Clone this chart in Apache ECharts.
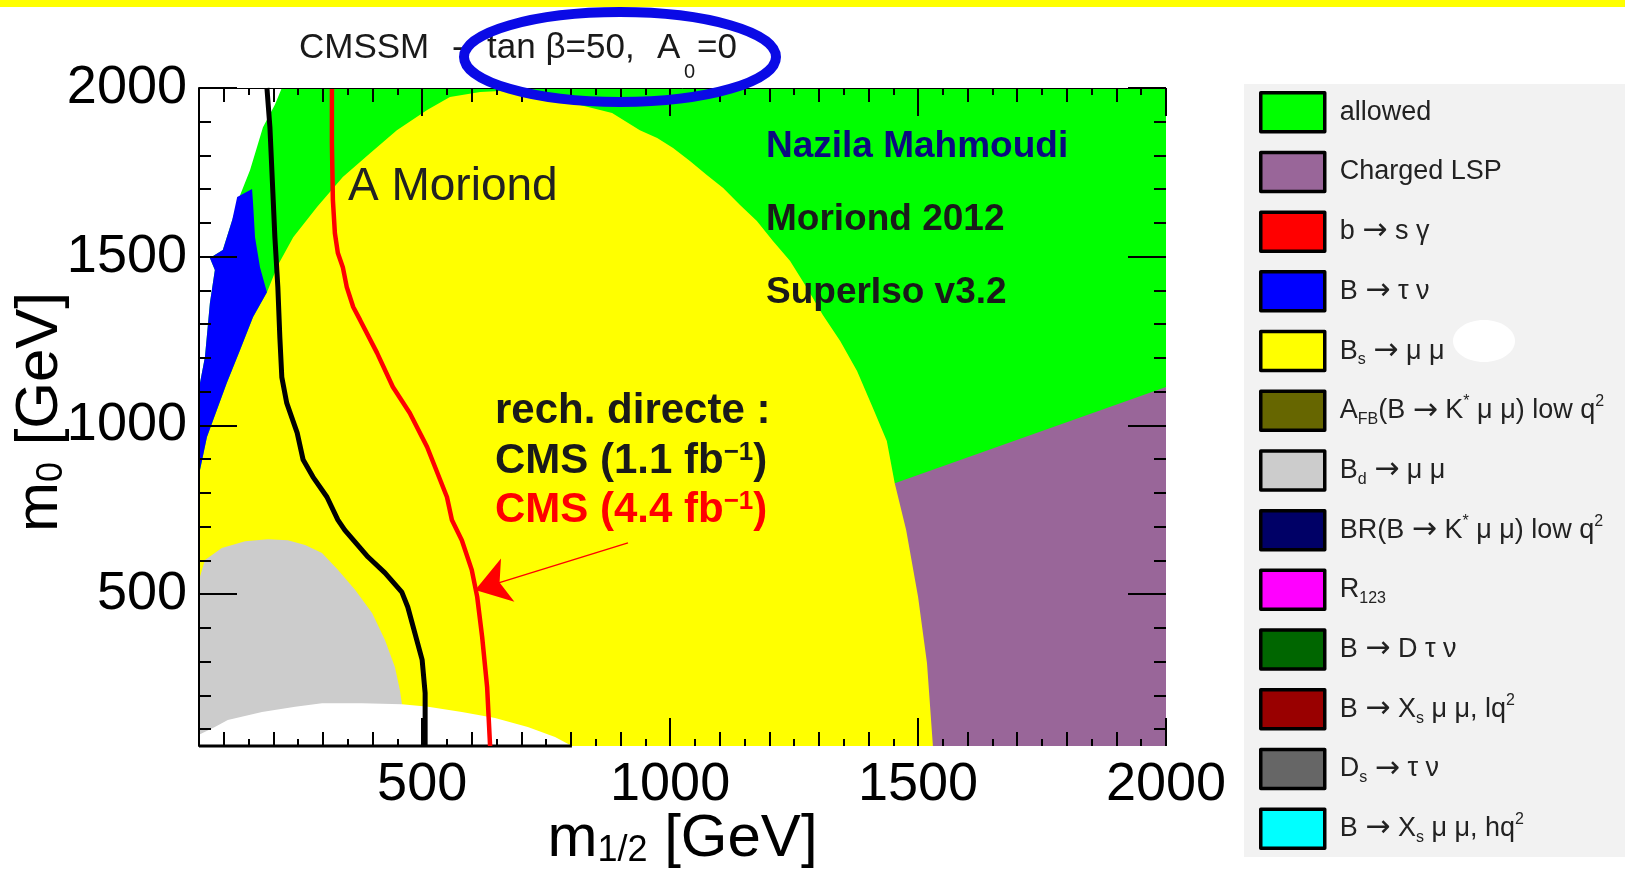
<!DOCTYPE html>
<html><head><meta charset="utf-8">
<script src="https://cdn.jsdelivr.net/npm/echarts@6/dist/echarts.min.js"></script>
<style>html,body{margin:0;padding:0;background:#fff}#c{width:1625px;height:876px}</style>
</head><body><div id="c"></div>
<script>
// ---------- axis ranges & ticks ----------
const xRange = [50, 2000];
const yRange = [50, 2000];
const xMajorTicks = [500, 1000, 1500, 2000];
const xMidTicks = [100, 200, 300, 400, 600, 700, 800, 900, 1100, 1200, 1300, 1400, 1600, 1700, 1800, 1900];
const xMinorTicks = [150, 250, 350, 450, 550, 650, 750, 850, 950, 1050, 1150, 1250, 1350, 1450, 1550, 1650, 1750, 1850, 1950];
const yMajorTicks = [500, 1000, 1500, 2000];
const yMinorTicks = [100, 200, 300, 400, 600, 700, 800, 900, 1100, 1200, 1300, 1400, 1600, 1700, 1800, 1900];

// ---------- regions (m1/2, m0) ----------
const allowedRegion = [[50, 50], [2000, 50], [2000, 2000], [50, 2000]];
const chargedLspRegion = [[1453, 829], [2000, 1114], [2000, 50], [1453, 50]];
const bsmumuRegion = [[50, 809], [52, 868], [66, 966], [86, 1046], [106, 1126], [133, 1224], [159, 1321], [187, 1395], [209, 1475], [240, 1558], [288, 1647], [340, 1736], [395, 1807], [449, 1875], [510, 1935], [556, 1973], [617, 1988], [657, 1991], [738, 1982], [780, 1964], [883, 1926], [939, 1875], [974, 1852], [1006, 1822], [1040, 1784], [1074, 1742], [1107, 1704], [1141, 1653], [1175, 1606], [1207, 1547], [1242, 1487], [1276, 1407], [1308, 1327], [1343, 1250], [1377, 1161], [1409, 1052], [1437, 954], [1453, 829], [1476, 690], [1500, 492], [1518, 296], [1530, 50], [50, 50]];
const bdmumuRegion = [[50, 542], [62, 601], [96, 637], [143, 657], [189, 663], [229, 660], [264, 646], [298, 622], [330, 572], [365, 512], [399, 444], [425, 364], [445, 284], [455, 216], [459, 177], [459, 50], [50, 50]];
const excludedBottomRegion = [[50, 83], [82, 106], [108, 127], [177, 151], [244, 166], [298, 177], [379, 177], [459, 174], [512, 166], [580, 151], [647, 133], [713, 106], [768, 77], [802, 50], [50, 50]];
const excludedTopLeftRegion = [[50, 2000], [217, 2000], [203, 1950], [179, 1884], [167, 1825], [153, 1757], [133, 1683], [117, 1609], [98, 1520], [72, 1496], [82, 1461], [72, 1363], [62, 1203], [52, 1126], [50, 1075]];
const btaunuRegion = [[157, 1701], [159, 1659], [163, 1558], [173, 1469], [187, 1395], [159, 1321], [133, 1224], [106, 1126], [86, 1046], [66, 966], [52, 868], [50, 809], [50, 1046], [52, 1126], [62, 1203], [72, 1363], [82, 1461], [72, 1496], [98, 1520], [117, 1609], [127, 1677]];
// frame segment visible below the unfilled (white / grey) part of the plot
const bottomFrame = [[50, 50], [802, 50]];

// ---------- CMS exclusion contours ----------
const cms11Line = [[187, 2000], [193, 1884], [199, 1689], [203, 1558], [209, 1410], [213, 1262], [217, 1143], [227, 1066], [248, 978], [260, 898], [280, 847], [308, 788], [330, 720], [344, 690], [391, 610], [425, 563], [459, 506], [471, 462], [500, 305], [506, 207], [506, 50]];
const cms44Line = [[318, 2000], [318, 1837], [320, 1668], [324, 1570], [330, 1511], [340, 1469], [348, 1410], [361, 1351], [375, 1312], [409, 1215], [441, 1114], [475, 1037], [510, 936], [550, 788], [560, 720], [580, 660], [600, 572], [611, 492], [621, 373], [631, 225], [637, 50]];
const arrowLine = [[915, 652], [607, 512]];

// ---------- legend ----------
const legendNames = ['allowed', 'Charged LSP', 'b → s γ', 'B → τ ν', 'Bs → μ μ', 'AFB(B → K* μ μ) low q2', 'Bd → μ μ', 'BR(B → K* μ μ) low q2', 'R123', 'B → D τ ν', 'B → Xs μ μ, lq2', 'Ds → τ ν', 'B → Xs μ μ, hq2'];
const legendLabels = ['{n|allowed}', '{n|Charged LSP}', '{n|b }{a|→}{n| s γ}', '{n|B }{a|→}{n| τ ν}', '{n|B}{sub|s}{n| }{a|→}{n| μ μ}', '{n|A}{sub|FB}{n|(B }{a|→}{n| K}{sup|*}{n| μ μ) low q}{sup|2}', '{n|B}{sub|d}{n| }{a|→}{n| μ μ}', '{n|BR(B }{a|→}{n| K}{sup|*}{n| μ μ) low q}{sup|2}', '{n|R}{sub|123}', '{n|B }{a|→}{n| D τ ν}', '{n|B }{a|→}{n| X}{sub|s}{n| μ μ, lq}{sup|2}', '{n|D}{sub|s}{n| }{a|→}{n| τ ν}', '{n|B }{a|→}{n| X}{sub|s}{n| μ μ, hq}{sup|2}'];
const legendColors = ['#00ff00', '#996699', '#ff0000', '#0000ff', '#ffff00', '#666600', '#cccccc', '#000066', '#ff00ff', '#006600', '#990000', '#666666', '#00ffff'];

const FONT = '"Liberation Sans", Arial, Helvetica, sans-serif';

function polySeries(name, pts, color) {
  return {
    type: 'custom', name: name, z: 1, silent: true, animation: false,
    itemStyle: { color: color },
    data: pts,
    renderItem: function (params, api) {
      if (params.dataIndex !== 0) return null;
      return { type: 'polygon', shape: { points: pts.map(function (p) { return api.coord(p); }) }, style: { fill: color } };
    }
  };
}
function emptySeries(name, color) {
  return { type: 'custom', name: name, itemStyle: { color: color }, data: [], renderItem: function () { return null; } };
}
function tickAxis(kind, pos, ticks, len, lineW, withLine, extra) {
  const a = {
    type: 'value', min: kind === 'x' ? xRange[0] : yRange[0], max: kind === 'x' ? xRange[1] : yRange[1],
    position: pos, z: 10, gridIndex: 0,
    axisLine: { show: withLine, onZero: false, lineStyle: { color: '#000', width: lineW } },
    axisTick: { show: true, inside: true, length: len, customValues: ticks, lineStyle: { color: '#000', width: 2 } },
    axisLabel: { show: false },
    splitLine: { show: false }
  };
  return Object.assign(a, extra || {});
}

const colorOf = {};
legendNames.forEach(function (n, i) { colorOf[n] = legendColors[i]; });

const series = [
  polySeries('allowed', allowedRegion, colorOf['allowed']),
  polySeries('Charged LSP', chargedLspRegion, colorOf['Charged LSP']),
  polySeries('Bs → μ μ', bsmumuRegion, colorOf['Bs → μ μ']),
  polySeries('Bd → μ μ', bdmumuRegion, colorOf['Bd → μ μ']),
  polySeries('excl-bottom', excludedBottomRegion, '#ffffff'),
  polySeries('excl-topleft', excludedTopLeftRegion, '#ffffff'),
  polySeries('B → τ ν', btaunuRegion, colorOf['B → τ ν']),
  {
    type: 'line', name: 'frame', data: bottomFrame, showSymbol: false, silent: true, z: 3, animation: false, clip: false,
    lineStyle: { color: '#000000', width: 3 }
  },
  {
    type: 'line', name: 'CMS 1.1', data: cms11Line, showSymbol: false, silent: true, z: 3, animation: false,
    lineStyle: { color: '#000000', width: 5 }
  },
  {
    type: 'line', name: 'CMS 4.4', data: cms44Line, showSymbol: false, silent: true, z: 3, animation: false,
    lineStyle: { color: '#ff0000', width: 4.5 }
  },
  {
    type: 'lines', coordinateSystem: 'cartesian2d', xAxisIndex: 0, yAxisIndex: 0, z: 4, silent: true, animation: false,
    data: [{ coords: arrowLine }], symbol: ['none', 'arrow'], symbolSize: 34,
    lineStyle: { color: '#ff0000', width: 1.5, opacity: 1 }
  }
];
['b → s γ', 'AFB(B → K* μ μ) low q2', 'BR(B → K* μ μ) low q2', 'R123', 'B → D τ ν', 'B → Xs μ μ, lq2', 'Ds → τ ν', 'B → Xs μ μ, hq2'].forEach(function (n) {
  series.push(emptySeries(n, colorOf[n]));
});

const nameRich = {
  m: { fontSize: 60, lineHeight: 60, fontFamily: FONT, color: '#000' },
  s: { fontSize: 36, lineHeight: 26, verticalAlign: 'bottom', fontFamily: FONT, color: '#000' }
};
const plainNum = function (v) { return String(v); };

const option = {
  animation: false,
  backgroundColor: '#ffffff',
  grid: { left: 199, top: 88, width: 967, height: 658, outerBoundsMode: 'none', containLabel: false },
  xAxis: [
    tickAxis('x', 'bottom', xMajorTicks, 28, 3, false, {
      axisLabel: { show: true, customValues: xMajorTicks, formatter: plainNum, fontSize: 54, color: '#000', fontFamily: FONT, margin: 12 },
      name: '{m|m}{s|1/2}{m| [GeV]}', nameLocation: 'middle', nameGap: 63, nameMoveOverlap: false,
      nameTextStyle: { color: '#000', fontFamily: FONT, fontSize: 60, rich: nameRich }
    }),
    tickAxis('x', 'bottom', xMidTicks, 14, 3, false),
    tickAxis('x', 'bottom', xMinorTicks, 7, 3, false),
    tickAxis('x', 'top', xMajorTicks, 28, 1, true),
    tickAxis('x', 'top', xMidTicks, 14, 1, false),
    tickAxis('x', 'top', xMinorTicks, 7, 1, false)
  ],
  yAxis: [
    tickAxis('y', 'left', yMajorTicks, 38, 2, true, {
      axisLabel: { show: true, customValues: yMajorTicks, formatter: plainNum, fontSize: 54, color: '#000', fontFamily: FONT, margin: 12 },
      name: '{m|m}{s|0}{m| [GeV]}', nameLocation: 'middle', nameGap: 129, nameRotate: 90, nameMoveOverlap: false,
      nameTextStyle: { color: '#000', fontFamily: FONT, fontSize: 60, padding: [0, 0, 0, 10], rich: nameRich }
    }),
    tickAxis('y', 'left', yMinorTicks, 12, 2, false),
    tickAxis('y', 'right', yMajorTicks, 38, 1, false),
    tickAxis('y', 'right', yMinorTicks, 12, 1, false)
  ],
  legend: {
    data: legendNames, orient: 'vertical', left: 1259, top: 91, padding: 0,
    itemWidth: 64, itemHeight: 39, itemGap: 17.2, icon: 'rect', selectedMode: false, z: 10,
    itemStyle: { borderColor: '#000', borderWidth: 3.5, borderJoin: 'round' },
    formatter: function (name) { return legendLabels[legendNames.indexOf(name)]; },
    textStyle: {
      fontSize: 27, color: '#222', fontFamily: FONT, padding: [0, 0, 0, 10],
      rich: {
        n: { fontSize: 27, lineHeight: 34, color: '#222', fontFamily: FONT },
        a: { fontSize: 30, lineHeight: 34, color: '#222', fontFamily: '"DejaVu Sans", sans-serif' },
        sub: { fontSize: 16, lineHeight: 16, verticalAlign: 'bottom', color: '#222', fontFamily: FONT },
        sup: { fontSize: 16, lineHeight: 16, verticalAlign: 'top', color: '#222', fontFamily: FONT }
      }
    }
  },
  graphic: {
    elements: [
      { type: 'rect', z: -10, silent: true, shape: { x: 0, y: 0, width: 1625, height: 7 }, style: { fill: '#ffff00' } },
      { type: 'rect', z: -10, silent: true, shape: { x: 1244, y: 84, width: 381, height: 773 }, style: { fill: '#f2f2f2' } },
      { type: 'ellipse', z: 100, silent: true, shape: { cx: 1484, cy: 341, rx: 31, ry: 21 }, style: { fill: '#ffffff' } },
      { type: 'text', z: 100, silent: true, style: { x: 299, y: 48, text: 'CMSSM', font: '35px ' + FONT, fill: '#1a1a1a', verticalAlign: 'middle' } },
      { type: 'text', z: 100, silent: true, style: { x: 452, y: 48, text: '-', font: '35px ' + FONT, fill: '#1a1a1a', verticalAlign: 'middle' } },
      { type: 'text', z: 100, silent: true, style: { x: 487, y: 48, text: 'tan β=50,', font: '35px ' + FONT, fill: '#1a1a1a', verticalAlign: 'middle' } },
      { type: 'text', z: 100, silent: true, style: { x: 657, y: 48, text: 'A', font: '35px ' + FONT, fill: '#1a1a1a', verticalAlign: 'middle' } },
      { type: 'text', z: 100, silent: true, style: { x: 684, y: 72, text: '0', font: '20px ' + FONT, fill: '#1a1a1a', verticalAlign: 'middle' } },
      { type: 'text', z: 100, silent: true, style: { x: 697, y: 48, text: '=0', font: '35px ' + FONT, fill: '#1a1a1a', verticalAlign: 'middle' } },
      { type: 'ellipse', z: 101, silent: true, shape: { cx: 620, cy: 57, rx: 156, ry: 45 }, style: { fill: null, stroke: '#0a0ae6', lineWidth: 10 } },
      { type: 'text', z: 100, silent: true, style: { x: 348, y: 187, text: 'A Moriond', font: '46px ' + FONT, fill: '#222', verticalAlign: 'middle' } },
      { type: 'text', z: 100, silent: true, style: { x: 766, y: 147, text: 'Nazila Mahmoudi', font: 'bold 37px ' + FONT, fill: '#0b0b80', verticalAlign: 'middle' } },
      { type: 'text', z: 100, silent: true, style: { x: 766, y: 220, text: 'Moriond 2012', font: 'bold 37px ' + FONT, fill: '#1a1a1a', verticalAlign: 'middle' } },
      { type: 'text', z: 100, silent: true, style: { x: 766, y: 293, text: 'SuperIso v3.2', font: 'bold 37px ' + FONT, fill: '#1a1a1a', verticalAlign: 'middle' } },
      { type: 'text', z: 100, silent: true, style: { x: 495, y: 411, text: 'rech. directe :', font: 'bold 42px ' + FONT, fill: '#1a1a1a', verticalAlign: 'middle' } },
      { type: 'text', z: 100, silent: true, style: { x: 495, y: 461, text: '{b|CMS (1.1 fb}{p|−1}{b|)}', verticalAlign: 'middle',
        rich: { b: { font: 'bold 42px ' + FONT, lineHeight: 42, fill: '#1a1a1a' }, p: { font: 'bold 26px ' + FONT, lineHeight: 20, verticalAlign: 'top', fill: '#1a1a1a' } } } },
      { type: 'text', z: 100, silent: true, style: { x: 495, y: 510, text: '{b|CMS (4.4 fb}{p|−1}{b|)}', verticalAlign: 'middle',
        rich: { b: { font: 'bold 42px ' + FONT, lineHeight: 42, fill: '#ff0000' }, p: { font: 'bold 26px ' + FONT, lineHeight: 20, verticalAlign: 'top', fill: '#ff0000' } } } }
    ]
  },
  series: series
};

const chart = echarts.init(document.getElementById('c'), null, { renderer: 'canvas' });
chart.setOption(option);
</script>
</body></html>
